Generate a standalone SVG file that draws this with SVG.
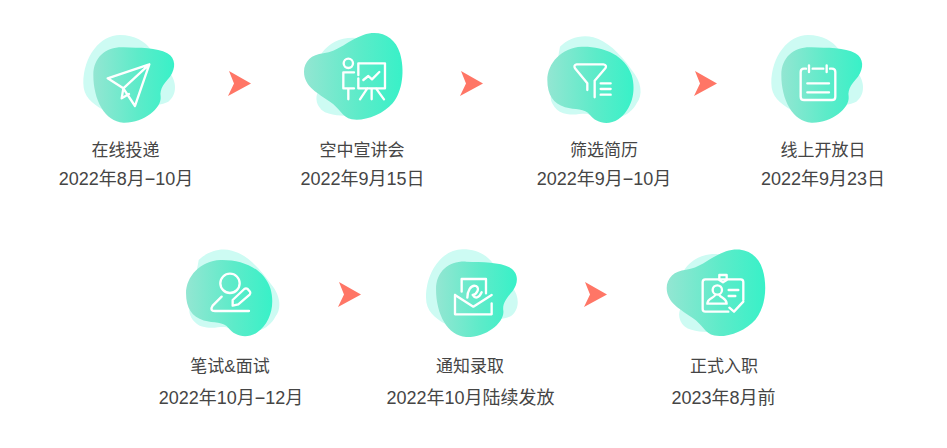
<svg xmlns="http://www.w3.org/2000/svg" width="947" height="448" viewBox="0 0 947 448">
<style>
text{font-family:"Liberation Sans","Noto Sans CJK SC",sans-serif;font-size:17px;fill:#454545;text-anchor:middle}
text.d{font-size:18px}
.pale{fill:#cdfbf3}
.dark{fill:url(#g)}
.ic{fill:none;stroke:#fff;stroke-width:7;stroke-linecap:round;stroke-linejoin:round}
.ar{fill:#ff7666}
</style>
<defs>
<linearGradient id="g" x1="0" y1="0" x2="1" y2="0"><stop offset="0" stop-color="#93e6d2"/><stop offset=".55" stop-color="#5debc9"/><stop offset="1" stop-color="#38f1c8"/></linearGradient>
<g id="blobA">
<path class="pale" d="M70,190C70,110 120,45 180,45C225,45 255,65 272,88L330,160C350,185 352,225 325,245C290,265 200,250 130,270C95,250 70,230 70,190Z"/>
<path class="dark" d="M100,165C100,110 140,80 190,82C240,84 290,82 322,100C348,115 348,145 330,170C315,188 298,205 302,230C305,265 250,310 190,308C135,305 100,240 100,165Z"/>
</g>
<g id="blobB">
<path class="pale" d="M125,100C150,65 190,48 240,55L300,200L215,290C190,285 150,290 125,270C105,250 105,225 120,205Z"/>
<path class="dark" d="M72,155C72,125 95,103 130,100C175,95 205,60 250,45C300,28 345,50 360,100C375,150 368,215 338,250C308,285 250,305 215,298C185,290 180,265 150,245C115,220 72,200 72,155Z"/>
</g>
<g id="blobC">
<path class="pale" d="M150,80C175,55 215,42 250,52C290,62 330,100 365,150C395,185 400,225 380,250C370,270 350,285 335,290L240,285C225,275 195,290 160,280C130,270 115,235 125,220Z"/>
<path class="dark" d="M112,180C112,130 155,82 215,80C280,78 345,105 365,165C380,215 365,270 325,298C290,320 255,305 240,285C225,265 195,270 165,262C130,250 112,225 112,180Z"/>
</g>
<path id="arrow" class="ar" d="M0,0L22,12.500L-1,25L5,12.500Z"/>
</defs>

<g id="connectors">
<use href="#arrow" x="229" y="71"/>
<use href="#arrow" x="461" y="71"/>
<use href="#arrow" x="695" y="71"/>
<use href="#arrow" x="339" y="282"/>
<use href="#arrow" x="585" y="282"/>
</g>

<g id="node1">
<use href="#blobA" transform="translate(60,20) scale(.3333)"/>
<path class="ic" transform="translate(60,20) scale(.3333)" d="M268,133L143,175L190,205L225,258ZL190,205L185,235L207,222"/>
<text x="125.500" y="156">在线投递</text>
<text class="d" x="126" y="185">2022年8月−10月</text>
</g>

<g id="node2">
<use href="#blobB" transform="translate(280,20) scale(.3333)"/>
<g class="ic" transform="translate(280,20) scale(.3333)">
<circle cx="205" cy="130" r="14"/>
<path d="M222,157H190V205H222M205,205V238"/>
<path d="M235,165V130H315V205H235V175M275,205V238M262,205L240,238M288,205L312,238M250,180L265,168L276,178L298,156"/>
</g>
<text x="362" y="156">空中宣讲会</text>
<text class="d" x="362.500" y="185">2022年9月15日</text>
</g>

<g id="node3">
<use href="#blobC" transform="translate(510,20) scale(.3333)"/>
<g class="ic" transform="translate(510,20) scale(.3333)">
<path d="M232,210V190L195,145Q190,135 200,133H280Q292,135 286,145L254,182V232"/>
<path d="M272,190H302M272,207H302M272,224H302"/>
</g>
<text x="604" y="156">筛选简历</text>
<text class="d" x="604" y="185">2022年9月−10月</text>
</g>

<g id="node4">
<use href="#blobA" transform="translate(748,20) scale(.3333)"/>
<g class="ic" transform="translate(730,20) scale(.3333)">
<path d="M228,146H222Q212,146 212,156V230Q212,240 222,240H306Q316,240 316,230V156Q316,146 306,146H300M248,146H280"/>
<path d="M237,136V156M290,136V156M232,190H297M232,217H297"/>
</g>
<text x="823" y="156">线上开放日</text>
<text class="d" x="823" y="185">2022年9月23日</text>
</g>

<g id="node5">
<use href="#blobC" transform="translate(148.700,233.300) scale(.3333)"/>
<g class="ic" transform="translate(150,235) scale(.3333)">
<circle cx="240" cy="145" r="29"/>
<path d="M215,185L188,212Q178,228 195,228H297"/>
<path d="M248,195L283,162Q288,158 293,162L300,170Q303,175 299,179L265,208L248,212Z"/>
</g>
<text x="230" y="372">笔试&amp;面试</text>
<text class="d" x="231" y="404">2022年10月−12月</text>
</g>

<g id="node6">
<use href="#blobA" transform="translate(402.700,234.300) scale(.3333)"/>
<g class="ic" transform="translate(380,235) scale(.3333)">
<path d="M225,180V238H335V205M225,180L280,215L335,180"/>
<path d="M245,170V132H318V175"/>
<path d="M262,188C262,170 272,148 288,153C302,160 288,180 278,180C285,192 297,190 305,172"/>
</g>
<text x="470" y="372">通知录取</text>
<text class="d" x="470.500" y="404">2022年10月陆续发放</text>
</g>

<g id="node7">
<use href="#blobB" transform="translate(642.700,236.300) scale(.3333)"/>
<g class="ic" transform="translate(630,235) scale(.3333)">
<path d="M295,230H226Q218,230 218,222V141Q218,133 226,133H332Q340,133 340,141V195"/>
<path d="M268,133V120H290V135L279,142L268,135Z"/>
<circle cx="262" cy="165" r="14"/>
<path d="M256,180C250,190 232,190 232,206H290C290,190 275,190 268,180"/>
<path d="M296,165H325M296,183H316M298,218L312,230L340,200"/>
</g>
<text x="724" y="372">正式入职</text>
<text class="d" x="723.500" y="404">2023年8月前</text>
</g>
</svg>
